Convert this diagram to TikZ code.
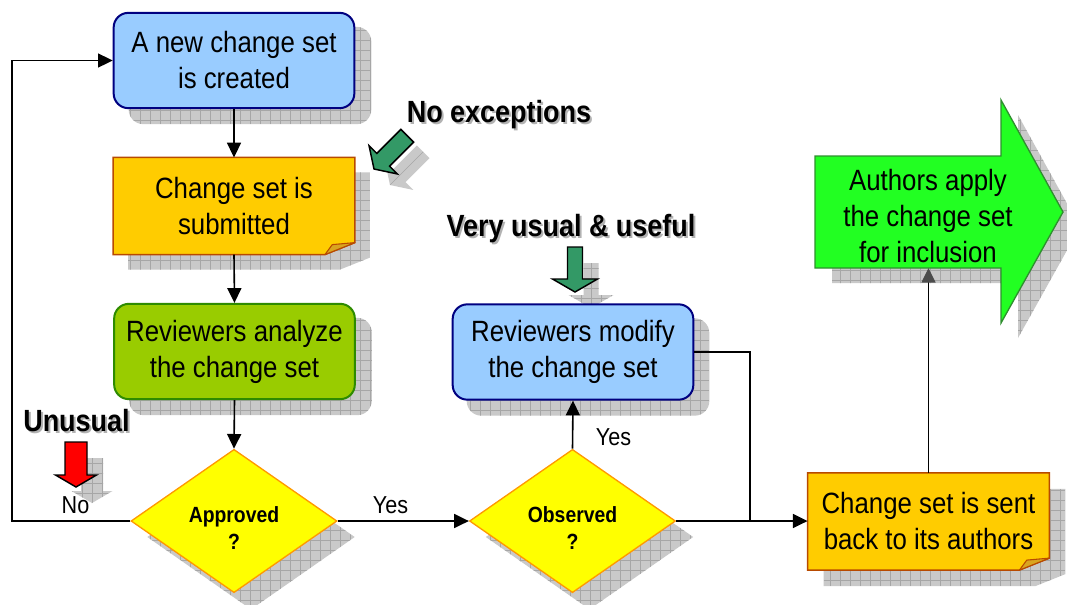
\documentclass[tikz,border=0pt]{standalone}
\usepackage{fontspec}
\setmainfont{Liberation Sans}[FakeStretch=0.88]
\usetikzlibrary{arrows.meta,shapes.geometric}

\pgfdeclarelayer{paper}
\pgfdeclarelayer{shade}
\pgfdeclarelayer{body}
\pgfsetlayers{paper,shade,body,main}

\definecolor{boxblue}{HTML}{99CCFF}
\definecolor{navyline}{HTML}{000080}
\definecolor{leafgreen}{HTML}{99CC00}
\definecolor{leafline}{HTML}{2E8B00}
\definecolor{notefill}{HTML}{FFCC00}
\definecolor{noteline}{HTML}{B84A00}
\definecolor{notefold}{HTML}{D9A520}
\definecolor{dfill}{HTML}{FFFF00}
\definecolor{dline}{HTML}{FF9900}
\definecolor{bigfill}{HTML}{22FF22}
\definecolor{bigline}{HTML}{2F8F2F}
\definecolor{calloutgreen}{HTML}{339966}
\definecolor{shadefill}{HTML}{C9C9C9}
\definecolor{shadegrid}{HTML}{A6A6A6}

\tikzset{
  shadowed/.style={fill=shadefill, path picture={\draw[shadegrid, line width=0.5pt, step=7.5pt]
      (path picture bounding box.south west) grid (path picture bounding box.north east);}},
  boxtext/.style={font=\fontsize{22pt}{27pt}\selectfont, align=center, inner sep=0pt},
  bluebox/.style={boxtext, draw=navyline, fill=boxblue, line width=1.5pt, rounded corners=11pt,
      minimum width=180.5pt, minimum height=71.5pt},
  greenbox/.style={bluebox, draw=leafline, fill=leafgreen},
  notebox/.style={boxtext, minimum width=181pt, minimum height=72.5pt},
  decision/.style={diamond, draw=dline, fill=dfill, line width=1pt, inner sep=0pt,
      minimum width=154.5pt, minimum height=107.5pt},
  dtext/.style={font=\bfseries\fontsize{16.5pt}{20.25pt}\selectfont, align=center, inner sep=0pt},
  branch/.style={font=\fontsize{18.4pt}{22pt}\selectfont, inner sep=0pt, anchor=base},
  remark/.style={font=\bfseries\fontsize{23pt}{27pt}\selectfont, inner sep=0pt, anchor=base},
  remarkshade/.style={remark, text=black!30},
  conn/.style={line width=1.2pt, -{Triangle[length=11pt,width=10.5pt]}},
  plain/.style={line width=1.2pt},
}

% sticky-note outline with a clipped lower right corner
\newcommand\noteshape[3]{%
  \path[#3] ([shift={#2}]#1.north west) -- ([shift={#2}]#1.north east)
    -- ([shift={#2},yshift=9pt]#1.south east) -- ([shift={#2},xshift=-22.5pt]#1.south east)
    -- ([shift={#2}]#1.south west) -- cycle;}
% the curled flap of the note
\newcommand\noteflap[1]{%
  \path[draw=noteline, fill=notefold, line width=0.8pt, line join=round]
    ([xshift=-22.5pt]#1.south east) -- ([shift={(-17pt,7.5pt)}]#1.south east)
    -- ([yshift=9pt]#1.south east) -- cycle;}
% block arrow: tip, rotation, fill, shaft width, shaft length, head width, head length
\newcommand\callout[7]{%
  \begin{pgfonlayer}{shade}
    \path[shadowed, shift={#1}, shift={(16,16)}, rotate=#2]
      (0,0) -- ({#6/2},{-#7}) -- ({#4/2},{-#7}) -- ({#4/2},{-#7-#5}) -- ({-#4/2},{-#7-#5})
      -- ({-#4/2},{-#7}) -- ({-#6/2},{-#7}) -- cycle;
  \end{pgfonlayer}
  \draw[fill=#3, line width=1.1pt, shift={#1}, rotate=#2]
      (0,0) -- ({#6/2},{-#7}) -- ({#4/2},{-#7}) -- ({#4/2},{-#7-#5}) -- ({-#4/2},{-#7-#5})
      -- ({-#4/2},{-#7}) -- ({-#6/2},{-#7}) -- cycle;}

\begin{document}
\begin{tikzpicture}[x=0.75pt, y=-0.75pt]
\useasboundingbox (0,0) rectangle (1067,604);
\begin{pgfonlayer}{paper}
  \fill[white] (0,0) rectangle (1067,604);
\end{pgfonlayer}

% process steps
\node[bluebox]  (b1) at (234,60.5)  {A new change set\\is created};
\node[notebox]  (b2) at (234,206)   {Change set is\\submitted};
\node[greenbox] (b3) at (234.5,351.5) {Reviewers analyze\\the change set};
\node[decision] (d1) at (234,521) {};
\node[dtext]    (d1t) at (234,528.5) {Approved\\?};
\node[decision] (d2) at (572.5,521) {};
\node[dtext]    (d2t) at (572.5,528.5) {Observed\\?};
\node[bluebox]  (b4) at (573,352)   {Reviewers modify\\the change set};
\node[notebox]  (b5) at (928.5,521.5) {Change set is sent\\back to its authors};

% final step: the big arrow
\begin{pgfonlayer}{body}
  \draw[bigline, fill=bigfill, line width=1pt]
    (815,156) -- (1001,156) -- (1001,100) -- (1063,212) -- (1001,323) -- (1001,268) -- (815,268) -- cycle;
  \noteshape{b2}{(0,0)}{draw=noteline, fill=notefill, line width=1.1pt}
  \noteflap{b2}
  \noteshape{b5}{(0,0)}{draw=noteline, fill=notefill, line width=1.1pt}
  \noteflap{b5}
\end{pgfonlayer}
\node[boxtext] (arr) at (928,216) {Authors apply\\the change set\\for inclusion};
\coordinate (arrbase) at (928.5,268);

% drop shadows
\begin{pgfonlayer}{shade}
  \path[shadowed, rounded corners=11pt] ([shift={(16,15)}]b1.south west) rectangle ([shift={(16,15)}]b1.north east);
  \path[shadowed, rounded corners=11pt] ([shift={(16,15)}]b3.south west) rectangle ([shift={(16,15)}]b3.north east);
  \path[shadowed, rounded corners=11pt] ([shift={(15,15)}]b4.south west) rectangle ([shift={(15,15)}]b4.north east);
  \noteshape{b2}{(15,15)}{shadowed}
  \noteshape{b5}{(16,16)}{shadowed}
  \path[shadowed] ([shift={(17,16)}]d1.north) -- ([shift={(17,16)}]d1.east) -- ([shift={(17,16)}]d1.south) -- ([shift={(17,16)}]d1.west) -- cycle;
  \path[shadowed] ([shift={(17,16)}]d2.north) -- ([shift={(17,16)}]d2.east) -- ([shift={(17,16)}]d2.south) -- ([shift={(17,16)}]d2.west) -- cycle;
  \path[shadowed] (832,171) -- (1018,171) -- (1018,115) -- (1080,227) -- (1018,338) -- (1018,283) -- (832,283) -- cycle;
\end{pgfonlayer}

% connectors
\coordinate (lp) at (12,300);
\coordinate (join) at (750,521);
\draw[conn] (b1.south) -- (b2.north);
\draw[conn] (b2.south) -- (b3.north);
\draw[conn] (b3.south) -- (d1.north);
\draw[conn] (d1.west) -| (lp) |- (b1.west);
\draw[conn] (d1.east) -- (d2.west);
\draw[conn] (d2.north) -- (b4.south);
\draw[conn] (d2.east) -- (d2.east -| b5.west);
\draw[plain] (b4.east) -| (join);
\draw[line width=1.2pt, -{Triangle[length=11pt,width=10.5pt,fill=black!70,color=black!70]}] (b5.north) -- (arrbase);

% branch labels
\node[branch] (no)   at (75.5,513) {No};
\node[branch] (yes1) at (390.5,513) {Yes};
\node[branch] (yes2) at (613.5,445) {Yes};

% remarks with their pointers
\node[remark] (r1) at (76.5,431) {Unusual};
\node[remark] (r2) at (499,122) {No exceptions};
\node[remark] (r3) at (571,236) {Very usual \& useful};
\begin{pgfonlayer}{shade}
  \node[remarkshade] at ([shift={(2,2)}]r1.base) {Unusual};
  \node[remarkshade] at ([shift={(2,2)}]r2.base) {No exceptions};
  \node[remarkshade] at ([shift={(2,2)}]r3.base) {Very usual \& useful};
\end{pgfonlayer}
\callout{(76,487)}{0}{red}{22}{33}{41}{12}
\callout{(575,292)}{0}{calloutgreen}{15}{32}{45}{13}
\callout{(374,169)}{-45}{calloutgreen}{18}{34}{40}{13}
\end{tikzpicture}
\end{document}
